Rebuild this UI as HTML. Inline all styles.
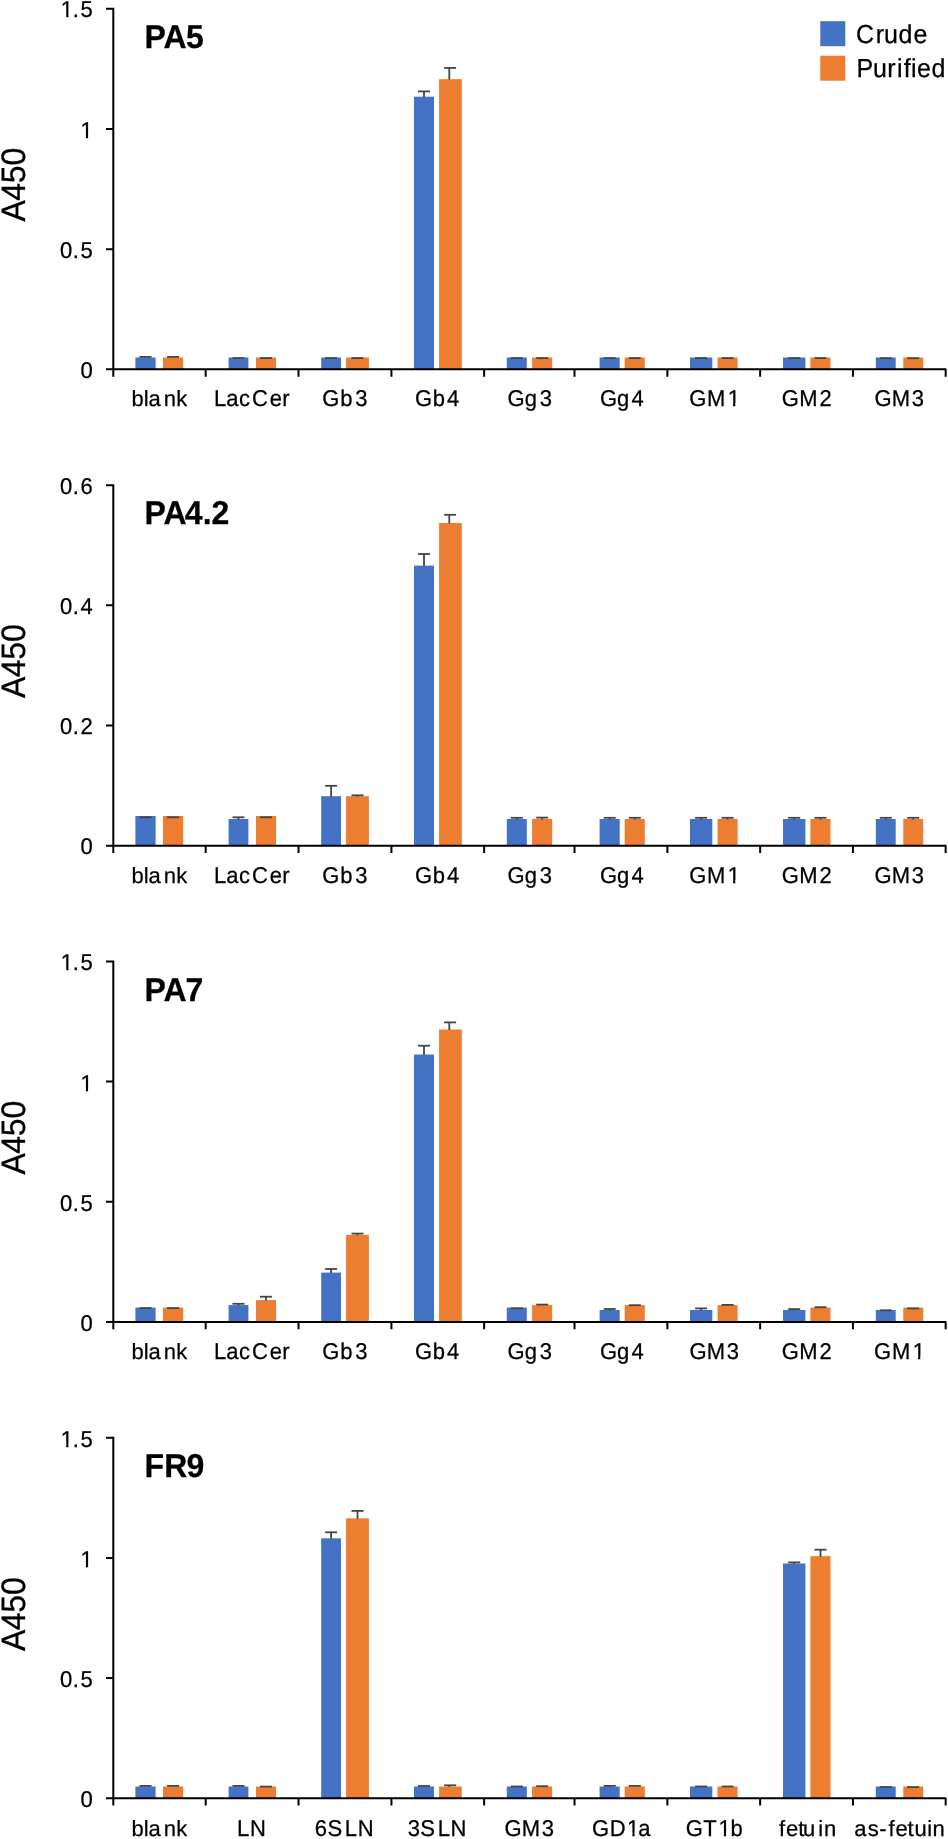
<!DOCTYPE html>
<html lang="en"><head><meta charset="utf-8"><title>ELISA binding of crude and purified antibodies</title>
<style>html,body{margin:0;padding:0;background:#fff}svg{display:block;will-change:transform}text{font-family:"Liberation Sans",sans-serif;fill:#000;stroke:#000;stroke-width:.25px;text-rendering:geometricPrecision}.t{font-size:22px}.b{font-size:32px;font-weight:bold}.y{font-size:32px}.l{font-size:25px}</style></head><body>
<svg width="948" height="1839" viewBox="0 0 948 1839">
<rect width="948" height="1839" fill="#fff"/>
<rect x="820.3" y="21.2" width="25" height="25" fill="#4472C4"/>
<rect x="820.3" y="55.7" width="25" height="25" fill="#ED7D31"/>
<text class="l" transform="translate(0 42.9) scale(1 1.04)" x="856.1 875.8 884.1 898.6 913.4" y="0">Crude</text>
<text class="l" transform="translate(0 77.2) scale(1 1.04)" x="856.45 872.95 887.35 896.95 903.8 910.95 917 931.45" y="0">Purified</text>
<g id="chart1">
<rect x="135.4" y="357.5" width="20.2" height="11.9" fill="#4472C4"/>
<rect x="163.0" y="357.5" width="20.2" height="11.9" fill="#ED7D31"/>
<path d="M139.5 356.9H151.5" stroke="#454545" stroke-width="1.8" fill="none"/>
<path d="M167.1 356.9H179.1" stroke="#454545" stroke-width="1.8" fill="none"/>
<rect x="228.6" y="357.5" width="19.8" height="11.9" fill="#4472C4"/>
<rect x="256.0" y="357.5" width="20.0" height="11.9" fill="#ED7D31"/>
<path d="M232.5 358.1H244.5" stroke="#454545" stroke-width="1.8" fill="none"/>
<path d="M260.0 358.1H272.0" stroke="#454545" stroke-width="1.8" fill="none"/>
<rect x="321.2" y="357.5" width="19.8" height="11.9" fill="#4472C4"/>
<rect x="346.1" y="357.5" width="22.8" height="11.9" fill="#ED7D31"/>
<path d="M325.1 358.1H337.1" stroke="#454545" stroke-width="1.8" fill="none"/>
<path d="M351.5 358.1H363.5" stroke="#454545" stroke-width="1.8" fill="none"/>
<rect x="414.0" y="96.7" width="20.0" height="272.7" fill="#4472C4"/>
<rect x="439.1" y="79.2" width="22.7" height="290.2" fill="#ED7D31"/>
<path d="M424.0 97.2V91.4" stroke="#454545" stroke-width="1.8" fill="none"/>
<path d="M418.0 91.4H430.0" stroke="#454545" stroke-width="1.8" fill="none"/>
<path d="M449.3 79.7V67.9" stroke="#454545" stroke-width="1.8" fill="none"/>
<path d="M444.1 67.9H456.1" stroke="#454545" stroke-width="1.8" fill="none"/>
<rect x="506.8" y="357.5" width="20.0" height="11.9" fill="#4472C4"/>
<rect x="532.1" y="357.5" width="20.1" height="11.9" fill="#ED7D31"/>
<path d="M510.8 358.1H522.8" stroke="#454545" stroke-width="1.8" fill="none"/>
<path d="M536.2 358.1H548.2" stroke="#454545" stroke-width="1.8" fill="none"/>
<rect x="599.6" y="357.5" width="20.1" height="11.9" fill="#4472C4"/>
<rect x="624.7" y="357.5" width="20.1" height="11.9" fill="#ED7D31"/>
<path d="M603.7 358.1H615.7" stroke="#454545" stroke-width="1.8" fill="none"/>
<path d="M628.8 358.1H640.8" stroke="#454545" stroke-width="1.8" fill="none"/>
<rect x="690.0" y="357.5" width="22.3" height="11.9" fill="#4472C4"/>
<rect x="717.6" y="357.5" width="20.0" height="11.9" fill="#ED7D31"/>
<path d="M695.1 358.1H707.1" stroke="#454545" stroke-width="1.8" fill="none"/>
<path d="M721.6 358.1H733.6" stroke="#454545" stroke-width="1.8" fill="none"/>
<rect x="783.0" y="357.5" width="22.4" height="11.9" fill="#4472C4"/>
<rect x="810.4" y="357.5" width="20.1" height="11.9" fill="#ED7D31"/>
<path d="M788.2 358.1H800.2" stroke="#454545" stroke-width="1.8" fill="none"/>
<path d="M814.5 358.1H826.5" stroke="#454545" stroke-width="1.8" fill="none"/>
<rect x="875.8" y="357.5" width="19.9" height="11.9" fill="#4472C4"/>
<rect x="903.3" y="357.5" width="19.9" height="11.9" fill="#ED7D31"/>
<path d="M879.8 358.2H891.8" stroke="#454545" stroke-width="1.8" fill="none"/>
<path d="M907.2 358.2H919.2" stroke="#454545" stroke-width="1.8" fill="none"/>
<path d="M106.00 8.85H113.30V376.65" stroke="#000" stroke-width="2.0" fill="none"/>
<path d="M106.00 369.35H945.65V376.65" stroke="#000" stroke-width="2.0" fill="none" stroke-linejoin="round"/>
<path d="M106.00 129.02H113.30M106.00 249.18H113.30M205.68 369.35V376.65M298.53 369.35V376.65M391.43 369.35V376.65M484.14 369.35V376.65M574.52 369.35V376.65M667.37 369.35V376.65M760.15 369.35V376.65M852.94 369.35V376.65" stroke="#000" stroke-width="2.0" fill="none"/>
<text class="t" transform="translate(0 17.4) scale(1 1.04)" x="60.85 72.70 80.45" y="0">1.5</text>
<rect x="61.33" y="14.59" width="4.93" height="4.21" fill="#fff"/><rect x="68.46" y="14.59" width="4.75" height="4.21" fill="#fff"/>
<text class="t" transform="translate(0 137.6) scale(1 1.04)" x="80.50" y="0">1</text>
<rect x="80.98" y="134.76" width="4.93" height="4.21" fill="#fff"/><rect x="88.11" y="134.76" width="4.75" height="4.21" fill="#fff"/>
<text class="t" transform="translate(0 257.7) scale(1 1.04)" x="60.00 72.70 80.45" y="0">0.5</text>
<text class="t" transform="translate(0 377.9) scale(1 1.04)" x="80.40" y="0">0</text>
<text class="t" x="131.59 143.69 148.39 163.84 176.29" y="406.1">blank</text>
<text class="t" transform="translate(0 406.1) scale(1 1.04)" x="214.08 226.33 239.03 251.93 269.63 282.23" y="0">LacCer</text>
<text class="t" transform="translate(0 406.1) scale(1 1.04)" x="322.32 340.27 355.22" y="0">Gb3</text>
<text class="t" transform="translate(0 406.1) scale(1 1.04)" x="414.91 432.71 447.01" y="0">Gb4</text>
<text class="t" transform="translate(0 406.1) scale(1 1.04)" x="507.61 524.71 539.80" y="0">Gg3</text>
<text class="t" transform="translate(0 406.1) scale(1 1.04)" x="599.89 617.00 631.60" y="0">Gg4</text>
<text class="t" transform="translate(0 406.1) scale(1 1.04)" x="689.13 706.98 727.68" y="0">GM1</text>
<rect x="728.16" y="403.29" width="4.93" height="4.21" fill="#fff"/><rect x="735.29" y="403.29" width="4.75" height="4.21" fill="#fff"/>
<text class="t" transform="translate(0 406.1) scale(1 1.04)" x="781.67 799.17 819.47" y="0">GM2</text>
<text class="t" transform="translate(0 406.1) scale(1 1.04)" x="874.41 891.81 911.81" y="0">GM3</text>
<text class="b" transform="translate(0 47.6) scale(1 1.03)" x="144.5 163.4 185.9" y="0">PA5</text>
<text class="y" transform="translate(24.8 221.5) rotate(-90) scale(1 1.06)" x="0 20.7 38.35 56.05">A450</text>
</g>
<g id="chart2">
<rect x="135.4" y="816.0" width="20.2" height="29.7" fill="#4472C4"/>
<rect x="163.0" y="816.0" width="20.2" height="29.7" fill="#ED7D31"/>
<path d="M139.5 817.3H151.5" stroke="#454545" stroke-width="1.8" fill="none"/>
<path d="M167.1 817.3H179.1" stroke="#454545" stroke-width="1.8" fill="none"/>
<rect x="228.6" y="819.0" width="19.8" height="26.7" fill="#4472C4"/>
<rect x="256.0" y="816.0" width="20.0" height="29.7" fill="#ED7D31"/>
<path d="M238.5 819.5V817.3" stroke="#454545" stroke-width="1.8" fill="none"/>
<path d="M232.5 817.3H244.5" stroke="#454545" stroke-width="1.8" fill="none"/>
<path d="M260.0 817.3H272.0" stroke="#454545" stroke-width="1.8" fill="none"/>
<rect x="321.2" y="796.2" width="19.8" height="49.5" fill="#4472C4"/>
<rect x="346.1" y="796.2" width="22.8" height="49.5" fill="#ED7D31"/>
<path d="M331.1 796.7V785.8" stroke="#454545" stroke-width="1.8" fill="none"/>
<path d="M325.1 785.8H337.1" stroke="#454545" stroke-width="1.8" fill="none"/>
<path d="M357.5 796.7V795.3" stroke="#454545" stroke-width="1.8" fill="none"/>
<path d="M351.5 795.3H363.5" stroke="#454545" stroke-width="1.8" fill="none"/>
<rect x="414.0" y="565.6" width="20.0" height="280.1" fill="#4472C4"/>
<rect x="439.1" y="523.0" width="22.7" height="322.7" fill="#ED7D31"/>
<path d="M424.0 566.1V554.0" stroke="#454545" stroke-width="1.8" fill="none"/>
<path d="M418.0 554.0H430.0" stroke="#454545" stroke-width="1.8" fill="none"/>
<path d="M449.3 523.5V514.8" stroke="#454545" stroke-width="1.8" fill="none"/>
<path d="M444.1 514.8H456.1" stroke="#454545" stroke-width="1.8" fill="none"/>
<rect x="506.8" y="819.0" width="20.0" height="26.7" fill="#4472C4"/>
<rect x="532.1" y="819.0" width="20.1" height="26.7" fill="#ED7D31"/>
<path d="M516.8 819.5V817.8" stroke="#454545" stroke-width="1.8" fill="none"/>
<path d="M510.8 817.8H522.8" stroke="#454545" stroke-width="1.8" fill="none"/>
<path d="M542.2 819.5V817.6" stroke="#454545" stroke-width="1.8" fill="none"/>
<path d="M536.2 817.6H548.2" stroke="#454545" stroke-width="1.8" fill="none"/>
<rect x="599.6" y="819.0" width="20.1" height="26.7" fill="#4472C4"/>
<rect x="624.7" y="819.0" width="20.1" height="26.7" fill="#ED7D31"/>
<path d="M609.7 819.5V817.8" stroke="#454545" stroke-width="1.8" fill="none"/>
<path d="M603.7 817.8H615.7" stroke="#454545" stroke-width="1.8" fill="none"/>
<path d="M634.8 819.5V817.8" stroke="#454545" stroke-width="1.8" fill="none"/>
<path d="M628.8 817.8H640.8" stroke="#454545" stroke-width="1.8" fill="none"/>
<rect x="690.0" y="819.0" width="22.3" height="26.7" fill="#4472C4"/>
<rect x="717.6" y="819.0" width="20.0" height="26.7" fill="#ED7D31"/>
<path d="M701.1 819.5V817.8" stroke="#454545" stroke-width="1.8" fill="none"/>
<path d="M695.1 817.8H707.1" stroke="#454545" stroke-width="1.8" fill="none"/>
<path d="M727.6 819.5V817.8" stroke="#454545" stroke-width="1.8" fill="none"/>
<path d="M721.6 817.8H733.6" stroke="#454545" stroke-width="1.8" fill="none"/>
<rect x="783.0" y="819.0" width="22.4" height="26.7" fill="#4472C4"/>
<rect x="810.4" y="819.0" width="20.1" height="26.7" fill="#ED7D31"/>
<path d="M794.2 819.5V817.8" stroke="#454545" stroke-width="1.8" fill="none"/>
<path d="M788.2 817.8H800.2" stroke="#454545" stroke-width="1.8" fill="none"/>
<path d="M820.5 819.5V817.8" stroke="#454545" stroke-width="1.8" fill="none"/>
<path d="M814.5 817.8H826.5" stroke="#454545" stroke-width="1.8" fill="none"/>
<rect x="875.8" y="819.0" width="19.9" height="26.7" fill="#4472C4"/>
<rect x="903.3" y="819.0" width="19.9" height="26.7" fill="#ED7D31"/>
<path d="M885.8 819.5V817.8" stroke="#454545" stroke-width="1.8" fill="none"/>
<path d="M879.8 817.8H891.8" stroke="#454545" stroke-width="1.8" fill="none"/>
<path d="M913.2 819.5V817.8" stroke="#454545" stroke-width="1.8" fill="none"/>
<path d="M907.2 817.8H919.2" stroke="#454545" stroke-width="1.8" fill="none"/>
<path d="M106.00 485.15H113.30V852.95" stroke="#000" stroke-width="2.0" fill="none"/>
<path d="M106.00 845.65H945.65V852.95" stroke="#000" stroke-width="2.0" fill="none" stroke-linejoin="round"/>
<path d="M106.00 605.32H113.30M106.00 725.48H113.30M205.68 845.65V852.95M298.53 845.65V852.95M391.43 845.65V852.95M484.14 845.65V852.95M574.52 845.65V852.95M667.37 845.65V852.95M760.15 845.65V852.95M852.94 845.65V852.95" stroke="#000" stroke-width="2.0" fill="none"/>
<text class="t" transform="translate(0 493.9) scale(1 1.04)" x="60.00 72.70 80.45" y="0">0.6</text>
<text class="t" transform="translate(0 614.1) scale(1 1.04)" x="60.00 72.70 80.45" y="0">0.4</text>
<text class="t" transform="translate(0 734.2) scale(1 1.04)" x="60.00 72.70 80.45" y="0">0.2</text>
<text class="t" transform="translate(0 854.4) scale(1 1.04)" x="80.40" y="0">0</text>
<text class="t" x="131.59 143.69 148.39 163.84 176.29" y="882.6">blank</text>
<text class="t" transform="translate(0 882.6) scale(1 1.04)" x="214.08 226.33 239.03 251.93 269.63 282.23" y="0">LacCer</text>
<text class="t" transform="translate(0 882.6) scale(1 1.04)" x="322.32 340.27 355.22" y="0">Gb3</text>
<text class="t" transform="translate(0 882.6) scale(1 1.04)" x="414.91 432.71 447.01" y="0">Gb4</text>
<text class="t" transform="translate(0 882.6) scale(1 1.04)" x="507.61 524.71 539.80" y="0">Gg3</text>
<text class="t" transform="translate(0 882.6) scale(1 1.04)" x="599.89 617.00 631.60" y="0">Gg4</text>
<text class="t" transform="translate(0 882.6) scale(1 1.04)" x="689.13 706.98 727.68" y="0">GM1</text>
<rect x="728.16" y="879.79" width="4.93" height="4.21" fill="#fff"/><rect x="735.29" y="879.79" width="4.75" height="4.21" fill="#fff"/>
<text class="t" transform="translate(0 882.6) scale(1 1.04)" x="781.67 799.17 819.47" y="0">GM2</text>
<text class="t" transform="translate(0 882.6) scale(1 1.04)" x="874.41 891.81 911.81" y="0">GM3</text>
<text class="b" transform="translate(0 524.1) scale(1 1.03)" x="144.5 163.4 184.85 202.65 211.45" y="0">PA4.2</text>
<text class="y" transform="translate(24.8 698.0) rotate(-90) scale(1 1.06)" x="0 20.7 38.35 56.05">A450</text>
</g>
<g id="chart3">
<rect x="135.4" y="1307.6" width="20.2" height="14.4" fill="#4472C4"/>
<rect x="163.0" y="1307.6" width="20.2" height="14.4" fill="#ED7D31"/>
<path d="M139.5 1308.1H151.5" stroke="#454545" stroke-width="1.8" fill="none"/>
<path d="M167.1 1308.1H179.1" stroke="#454545" stroke-width="1.8" fill="none"/>
<rect x="228.6" y="1305.1" width="19.8" height="16.9" fill="#4472C4"/>
<rect x="256.0" y="1300.1" width="20.0" height="21.9" fill="#ED7D31"/>
<path d="M238.5 1305.6V1303.8" stroke="#454545" stroke-width="1.8" fill="none"/>
<path d="M232.5 1303.8H244.5" stroke="#454545" stroke-width="1.8" fill="none"/>
<path d="M266.0 1300.6V1296.7" stroke="#454545" stroke-width="1.8" fill="none"/>
<path d="M260.0 1296.7H272.0" stroke="#454545" stroke-width="1.8" fill="none"/>
<rect x="321.2" y="1272.6" width="19.8" height="49.4" fill="#4472C4"/>
<rect x="346.1" y="1234.9" width="22.8" height="87.0" fill="#ED7D31"/>
<path d="M331.1 1273.1V1269.0" stroke="#454545" stroke-width="1.8" fill="none"/>
<path d="M325.1 1269.0H337.1" stroke="#454545" stroke-width="1.8" fill="none"/>
<path d="M357.5 1235.4V1233.6" stroke="#454545" stroke-width="1.8" fill="none"/>
<path d="M351.5 1233.6H363.5" stroke="#454545" stroke-width="1.8" fill="none"/>
<rect x="414.0" y="1054.5" width="20.0" height="267.5" fill="#4472C4"/>
<rect x="439.1" y="1029.5" width="22.7" height="292.5" fill="#ED7D31"/>
<path d="M424.0 1055.0V1045.7" stroke="#454545" stroke-width="1.8" fill="none"/>
<path d="M418.0 1045.7H430.0" stroke="#454545" stroke-width="1.8" fill="none"/>
<path d="M449.3 1030.0V1022.4" stroke="#454545" stroke-width="1.8" fill="none"/>
<path d="M444.1 1022.4H456.1" stroke="#454545" stroke-width="1.8" fill="none"/>
<rect x="506.8" y="1307.6" width="20.0" height="14.4" fill="#4472C4"/>
<rect x="532.1" y="1305.1" width="20.1" height="16.9" fill="#ED7D31"/>
<path d="M510.8 1308.3H522.8" stroke="#454545" stroke-width="1.8" fill="none"/>
<path d="M536.2 1304.6H548.2" stroke="#454545" stroke-width="1.8" fill="none"/>
<rect x="599.6" y="1310.0" width="20.1" height="12.0" fill="#4472C4"/>
<rect x="624.7" y="1305.1" width="20.1" height="16.9" fill="#ED7D31"/>
<path d="M609.7 1310.5V1309.0" stroke="#454545" stroke-width="1.8" fill="none"/>
<path d="M603.7 1309.0H615.7" stroke="#454545" stroke-width="1.8" fill="none"/>
<path d="M628.8 1305.2H640.8" stroke="#454545" stroke-width="1.8" fill="none"/>
<rect x="690.0" y="1310.0" width="22.3" height="12.0" fill="#4472C4"/>
<rect x="717.6" y="1305.1" width="20.0" height="16.9" fill="#ED7D31"/>
<path d="M701.1 1310.5V1308.4" stroke="#454545" stroke-width="1.8" fill="none"/>
<path d="M695.1 1308.4H707.1" stroke="#454545" stroke-width="1.8" fill="none"/>
<path d="M721.6 1304.9H733.6" stroke="#454545" stroke-width="1.8" fill="none"/>
<rect x="783.0" y="1310.0" width="22.4" height="12.0" fill="#4472C4"/>
<rect x="810.4" y="1307.6" width="20.1" height="14.4" fill="#ED7D31"/>
<path d="M794.2 1310.5V1309.1" stroke="#454545" stroke-width="1.8" fill="none"/>
<path d="M788.2 1309.1H800.2" stroke="#454545" stroke-width="1.8" fill="none"/>
<path d="M814.5 1307.2H826.5" stroke="#454545" stroke-width="1.8" fill="none"/>
<rect x="875.8" y="1310.0" width="19.9" height="12.0" fill="#4472C4"/>
<rect x="903.3" y="1307.6" width="19.9" height="14.4" fill="#ED7D31"/>
<path d="M879.8 1310.3H891.8" stroke="#454545" stroke-width="1.8" fill="none"/>
<path d="M907.2 1308.4H919.2" stroke="#454545" stroke-width="1.8" fill="none"/>
<path d="M106.00 961.45H113.30V1329.25" stroke="#000" stroke-width="2.0" fill="none"/>
<path d="M106.00 1321.95H945.65V1329.25" stroke="#000" stroke-width="2.0" fill="none" stroke-linejoin="round"/>
<path d="M106.00 1081.62H113.30M106.00 1201.78H113.30M205.68 1321.95V1329.25M298.53 1321.95V1329.25M391.43 1321.95V1329.25M484.14 1321.95V1329.25M574.52 1321.95V1329.25M667.37 1321.95V1329.25M760.15 1321.95V1329.25M852.94 1321.95V1329.25" stroke="#000" stroke-width="2.0" fill="none"/>
<text class="t" transform="translate(0 970.4) scale(1 1.04)" x="60.85 72.70 80.45" y="0">1.5</text>
<rect x="61.33" y="967.59" width="4.93" height="4.21" fill="#fff"/><rect x="68.46" y="967.59" width="4.75" height="4.21" fill="#fff"/>
<text class="t" transform="translate(0 1090.6) scale(1 1.04)" x="80.50" y="0">1</text>
<rect x="80.98" y="1087.76" width="4.93" height="4.21" fill="#fff"/><rect x="88.11" y="1087.76" width="4.75" height="4.21" fill="#fff"/>
<text class="t" transform="translate(0 1210.7) scale(1 1.04)" x="60.00 72.70 80.45" y="0">0.5</text>
<text class="t" transform="translate(0 1330.9) scale(1 1.04)" x="80.40" y="0">0</text>
<text class="t" x="131.59 143.69 148.39 163.84 176.29" y="1359.1">blank</text>
<text class="t" transform="translate(0 1359.1) scale(1 1.04)" x="214.08 226.33 239.03 251.93 269.63 282.23" y="0">LacCer</text>
<text class="t" transform="translate(0 1359.1) scale(1 1.04)" x="322.32 340.27 355.22" y="0">Gb3</text>
<text class="t" transform="translate(0 1359.1) scale(1 1.04)" x="414.91 432.71 447.01" y="0">Gb4</text>
<text class="t" transform="translate(0 1359.1) scale(1 1.04)" x="507.61 524.71 539.80" y="0">Gg3</text>
<text class="t" transform="translate(0 1359.1) scale(1 1.04)" x="599.89 617.00 631.60" y="0">Gg4</text>
<text class="t" transform="translate(0 1359.1) scale(1 1.04)" x="689.43 706.83 726.83" y="0">GM3</text>
<text class="t" transform="translate(0 1359.1) scale(1 1.04)" x="781.67 799.17 819.47" y="0">GM2</text>
<text class="t" transform="translate(0 1359.1) scale(1 1.04)" x="874.11 891.96 912.66" y="0">GM1</text>
<rect x="913.14" y="1356.29" width="4.93" height="4.21" fill="#fff"/><rect x="920.27" y="1356.29" width="4.75" height="4.21" fill="#fff"/>
<text class="b" transform="translate(0 1000.6) scale(1 1.03)" x="144.5 163.4 185.45" y="0">PA7</text>
<text class="y" transform="translate(24.8 1174.5) rotate(-90) scale(1 1.06)" x="0 20.7 38.35 56.05">A450</text>
</g>
<g id="chart4">
<rect x="135.4" y="1786.5" width="20.2" height="11.8" fill="#4472C4"/>
<rect x="163.0" y="1786.5" width="20.2" height="11.8" fill="#ED7D31"/>
<path d="M139.5 1785.9H151.5" stroke="#454545" stroke-width="1.8" fill="none"/>
<path d="M167.1 1785.9H179.1" stroke="#454545" stroke-width="1.8" fill="none"/>
<rect x="228.6" y="1786.5" width="19.8" height="11.8" fill="#4472C4"/>
<rect x="256.0" y="1786.5" width="20.0" height="11.8" fill="#ED7D31"/>
<path d="M232.5 1785.9H244.5" stroke="#454545" stroke-width="1.8" fill="none"/>
<path d="M260.0 1786.6H272.0" stroke="#454545" stroke-width="1.8" fill="none"/>
<rect x="321.2" y="1538.3" width="19.8" height="260.0" fill="#4472C4"/>
<rect x="346.1" y="1518.3" width="22.8" height="280.0" fill="#ED7D31"/>
<path d="M331.1 1538.8V1532.3" stroke="#454545" stroke-width="1.8" fill="none"/>
<path d="M325.1 1532.3H337.1" stroke="#454545" stroke-width="1.8" fill="none"/>
<path d="M357.5 1518.8V1510.9" stroke="#454545" stroke-width="1.8" fill="none"/>
<path d="M351.5 1510.9H363.5" stroke="#454545" stroke-width="1.8" fill="none"/>
<rect x="414.0" y="1786.5" width="20.0" height="11.8" fill="#4472C4"/>
<rect x="439.1" y="1786.5" width="22.7" height="11.8" fill="#ED7D31"/>
<path d="M418.0 1786.0H430.0" stroke="#454545" stroke-width="1.8" fill="none"/>
<path d="M449.3 1787.0V1785.3" stroke="#454545" stroke-width="1.8" fill="none"/>
<path d="M444.1 1785.3H456.1" stroke="#454545" stroke-width="1.8" fill="none"/>
<rect x="506.8" y="1786.5" width="20.0" height="11.8" fill="#4472C4"/>
<rect x="532.1" y="1786.5" width="20.1" height="11.8" fill="#ED7D31"/>
<path d="M510.8 1786.5H522.8" stroke="#454545" stroke-width="1.8" fill="none"/>
<path d="M536.2 1786.2H548.2" stroke="#454545" stroke-width="1.8" fill="none"/>
<rect x="599.6" y="1786.5" width="20.1" height="11.8" fill="#4472C4"/>
<rect x="624.7" y="1786.5" width="20.1" height="11.8" fill="#ED7D31"/>
<path d="M603.7 1785.9H615.7" stroke="#454545" stroke-width="1.8" fill="none"/>
<path d="M628.8 1785.9H640.8" stroke="#454545" stroke-width="1.8" fill="none"/>
<rect x="690.0" y="1786.5" width="22.3" height="11.8" fill="#4472C4"/>
<rect x="717.6" y="1786.5" width="20.0" height="11.8" fill="#ED7D31"/>
<path d="M695.1 1786.5H707.1" stroke="#454545" stroke-width="1.8" fill="none"/>
<path d="M721.6 1786.5H733.6" stroke="#454545" stroke-width="1.8" fill="none"/>
<rect x="783.0" y="1563.5" width="22.4" height="234.8" fill="#4472C4"/>
<rect x="810.4" y="1556.2" width="20.1" height="242.0" fill="#ED7D31"/>
<path d="M794.2 1564.0V1562.4" stroke="#454545" stroke-width="1.8" fill="none"/>
<path d="M788.2 1562.4H800.2" stroke="#454545" stroke-width="1.8" fill="none"/>
<path d="M820.5 1556.7V1549.7" stroke="#454545" stroke-width="1.8" fill="none"/>
<path d="M814.5 1549.7H826.5" stroke="#454545" stroke-width="1.8" fill="none"/>
<rect x="875.8" y="1786.5" width="19.9" height="11.8" fill="#4472C4"/>
<rect x="903.3" y="1786.5" width="19.9" height="11.8" fill="#ED7D31"/>
<path d="M879.8 1787.1H891.8" stroke="#454545" stroke-width="1.8" fill="none"/>
<path d="M907.2 1787.1H919.2" stroke="#454545" stroke-width="1.8" fill="none"/>
<path d="M106.00 1437.75H113.30V1805.55" stroke="#000" stroke-width="2.0" fill="none"/>
<path d="M106.00 1798.25H945.65V1805.55" stroke="#000" stroke-width="2.0" fill="none" stroke-linejoin="round"/>
<path d="M106.00 1557.92H113.30M106.00 1678.08H113.30M205.68 1798.25V1805.55M298.53 1798.25V1805.55M391.43 1798.25V1805.55M484.14 1798.25V1805.55M574.52 1798.25V1805.55M667.37 1798.25V1805.55M760.15 1798.25V1805.55M852.94 1798.25V1805.55" stroke="#000" stroke-width="2.0" fill="none"/>
<text class="t" transform="translate(0 1446.9) scale(1 1.04)" x="60.85 72.70 80.45" y="0">1.5</text>
<rect x="61.33" y="1444.09" width="4.93" height="4.21" fill="#fff"/><rect x="68.46" y="1444.09" width="4.75" height="4.21" fill="#fff"/>
<text class="t" transform="translate(0 1567.1) scale(1 1.04)" x="80.50" y="0">1</text>
<rect x="80.98" y="1564.26" width="4.93" height="4.21" fill="#fff"/><rect x="88.11" y="1564.26" width="4.75" height="4.21" fill="#fff"/>
<text class="t" transform="translate(0 1687.2) scale(1 1.04)" x="60.00 72.70 80.45" y="0">0.5</text>
<text class="t" transform="translate(0 1807.4) scale(1 1.04)" x="80.40" y="0">0</text>
<text class="t" x="131.59 143.69 148.39 163.84 176.29" y="1835.6">blank</text>
<text class="t" transform="translate(0 1835.6) scale(1 1.04)" x="236.93 249.88" y="0">LN</text>
<text class="t" transform="translate(0 1835.6) scale(1 1.04)" x="314.67 327.42 344.77 357.72" y="0">6SLN</text>
<text class="t" transform="translate(0 1835.6) scale(1 1.04)" x="407.81 420.31 437.66 450.62" y="0">3SLN</text>
<text class="t" transform="translate(0 1835.6) scale(1 1.04)" x="504.45 521.86 541.86" y="0">GM3</text>
<text class="t" transform="translate(0 1835.6) scale(1 1.04)" x="591.89 609.70 627.00 638.29" y="0">GD1a</text>
<rect x="627.47" y="1832.79" width="4.93" height="4.21" fill="#fff"/><rect x="634.60" y="1832.79" width="4.00" height="4.21" fill="#fff"/>
<text class="t" transform="translate(0 1835.6) scale(1 1.04)" x="685.68 703.13 718.43 730.53" y="0">GT1b</text>
<rect x="718.91" y="1832.79" width="4.93" height="4.21" fill="#fff"/><rect x="726.04" y="1832.79" width="4.75" height="4.21" fill="#fff"/>
<text class="t" x="778.92 786.07 798.32 802.92 818.22 823.92" y="1835.6">fetuin</text>
<text class="t" x="854.31 867.71 879.21 888.41 895.51 907.56 914.61 927.21 932.61" y="1835.6">as-fetuin</text>
<text class="b" transform="translate(0 1477.1) scale(1 1.03)" x="144.5 164.2 186.5" y="0">FR9</text>
<text class="y" transform="translate(24.8 1651.0) rotate(-90) scale(1 1.06)" x="0 20.7 38.35 56.05">A450</text>
</g>
</svg></body></html>
